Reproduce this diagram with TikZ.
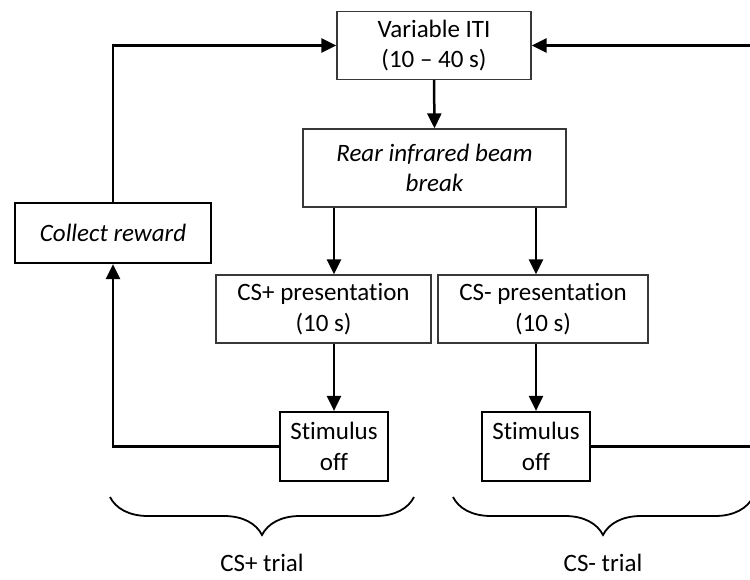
\documentclass[tikz,border=0pt]{standalone}
\usepackage{fontspec}
\setmainfont{Carlito}[Ligatures=NoCommon]
\usetikzlibrary{arrows.meta,decorations.pathreplacing}

\begin{document}
\begin{tikzpicture}[x=1pt,y=-1pt,
  every node/.style={font=\fontsize{25}{30.5}\selectfont, align=center, inner sep=0pt},
  thinbox/.style={draw=black!78, line width=1.3pt, rectangle},
  thickbox/.style={draw=black, line width=2.2pt, rectangle},
  arr/.style={draw=black, line width=2.5pt, -{Triangle[width=14pt,length=15pt]}},
  trialbrace/.style={draw=black, line width=1.8pt, decorate,
    decoration={brace, amplitude=38pt, mirror}}
]
\useasboundingbox (0,0) rectangle (750,579);
\clip (0,0) rectangle (750,579);

% boxes
\node[thinbox, minimum width=194pt, minimum height=68pt] (iti) at (434,45.5) {Variable ITI\\(10 -- 40 s)};
\node[thinbox, minimum width=263pt, minimum height=78pt] (rear) at (434.5,168) {\itshape Rear infrared beam\\\itshape break};
\node[thickbox, minimum width=196pt, minimum height=60pt] (collect) at (113,233) {\itshape Collect reward};
\node[thinbox, minimum width=215pt, minimum height=68pt] (csp) at (323.5,309) {CS+ presentation\\(10 s)};
\node[thinbox, minimum width=210pt, minimum height=68pt] (csm) at (543,309) {CS- presentation\\(10 s)};
\node[thickbox, minimum width=108pt, minimum height=69pt] (offp) at (334,446.5) {Stimulus\\off};
\node[thickbox, minimum width=108pt, minimum height=69pt] (offm) at (536,446.5) {Stimulus\\off};

% main flow
\draw[arr] (iti.south) -- (rear.north);
\draw[arr] (rear.south -| offp.north) -- (csp.north -| offp.north);
\draw[arr] (rear.south -| offm.north) -- (csm.north -| offm.north);
\draw[arr] (csp.south -| offp.north) -- (offp.north);
\draw[arr] (csm.south -| offm.north) -- (offm.north);

% CS+ loop through reward collection
\draw[arr] (offp.west) -| (collect.south);
\draw[arr] (collect.north) |- (iti.west);

% CS- loop back to the ITI
\coordinate (rturn) at (762,446.5);
\draw[arr] (offm.east) -- (rturn) |- (iti.east);

% trial braces and labels
\draw[trialbrace] (110,497) -- (414,497);
\draw[trialbrace] (453,497) -- (753,497);
\node (tplus) at (262,563) {CS+ trial};
\node (tminus) at (603,563) {CS- trial};
\end{tikzpicture}
\end{document}
